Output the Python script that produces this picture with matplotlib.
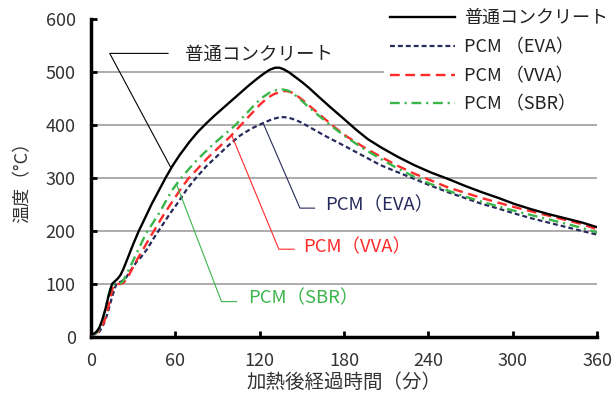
import numpy as np
import matplotlib
matplotlib.use("Agg")
import matplotlib.pyplot as plt

plt.rcParams['font.family'] = ['Noto Sans CJK JP', 'DejaVu Sans']
plt.rcParams['lines.scale_dashes'] = False

# data (minutes, deg C)
t_normal = [0, 2, 4, 6, 8, 10, 12, 14, 15, 17, 19, 21, 23, 26, 30, 34, 38, 43, 48, 53, 58, 63, 70,
            76, 82, 88, 94, 100, 106, 112, 118, 123, 127, 131, 134, 137, 141, 145, 150, 155, 162,
            170, 180, 189, 197, 206, 218, 230, 242, 254, 266, 278, 290, 301, 313, 325, 337, 349, 360]
T_normal = [5, 6, 10, 18, 32, 50, 72, 92, 100, 105, 110, 117, 128, 148, 175, 200, 222, 250, 275, 300, 323, 343, 368,
            387, 403, 418, 432, 446, 460, 474, 487, 497, 504, 508, 508, 505, 499, 491, 481, 470, 453,
            434, 411, 390, 373, 358, 340, 324, 310, 298, 285, 273, 262, 251, 241, 232, 224, 216, 207]

t_eva = [0, 3, 6, 9, 11, 13, 15, 17, 18, 20, 22, 25, 28, 32, 36, 40, 45, 51, 56, 62, 68, 74, 82,
         90, 98, 106, 114, 122, 129, 135, 140, 145, 150, 158, 166, 174, 182, 194, 206, 218, 230,
         242, 254, 266, 278, 290, 301, 313, 325, 337, 349, 360]
T_eva = [4, 5, 10, 24, 38, 56, 76, 92, 100, 103, 105, 112, 125, 140, 152, 166, 188, 212, 232, 254, 278, 298, 322,
         342, 362, 380, 393, 403, 411, 415, 414, 410, 404, 392, 380, 369, 358, 341, 324, 311, 298,
         285, 273, 262, 251, 242, 233, 224, 216, 208, 200, 193]

t_vva = [0, 3, 6, 9, 11, 13, 15, 16, 18, 21, 23, 25, 27, 30, 33, 37, 42, 47, 52, 58, 63, 69, 76,
         83, 91, 99, 106, 113, 120, 125, 130, 135, 139, 143, 147, 151, 158, 166, 174, 182, 194,
         206, 218, 230, 242, 254, 266, 278, 290, 301, 313, 325, 337, 349, 360]
T_vva = [5, 6, 12, 26, 42, 64, 88, 97, 100, 100, 102, 108, 117, 132, 147, 165, 188, 210, 232, 256, 276, 298, 318,
         338, 358, 378, 398, 418, 438, 450, 458, 463, 464, 461, 454, 446, 430, 412, 394, 378, 358,
         340, 323, 308, 295, 282, 272, 262, 253, 245, 237, 229, 221, 213, 203]

t_sbr = [0, 3, 6, 8, 10, 12, 14, 15, 18, 21, 23, 25, 28, 31, 35, 39, 44, 49, 54, 58, 63, 68, 74,
         80, 88, 95, 102, 110, 117, 122, 127, 132, 136, 140, 144, 148, 153, 160, 170, 182, 194,
         206, 218, 230, 242, 254, 266, 278, 290, 301, 313, 325, 337, 349, 360]
T_sbr = [5, 6, 15, 30, 50, 75, 92, 98, 100, 101, 106, 117, 133, 150, 172, 195, 215, 236, 260, 278, 296, 312, 330,
         346, 366, 382, 398, 420, 440, 452, 461, 466, 467, 465, 459, 450, 438, 422, 400, 376, 355,
         336, 318, 302, 288, 276, 265, 255, 246, 238, 230, 222, 214, 206, 197]

labels = ['普通コンクリート', 'PCM（EVA）', 'PCM（VVA）', 'PCM（SBR）']
legend_labels = ['普通コンクリート', 'PCM （EVA）', 'PCM （VVA）', 'PCM （SBR）']
colors = ['black', '#262a5c', '#ff2a2a', '#3bb54a']

fig = plt.figure(figsize=(6.15, 4.03), dpi=100)
ax = fig.add_axes([0.148, 0.164, 0.823, 0.789])

ax.plot(t_normal, T_normal, color=colors[0], lw=1.7, label=legend_labels[0], zorder=5)
ax.plot(t_eva, T_eva, color=colors[1], lw=1.6, ls=(0, (3.5, 2.2)), label=legend_labels[1], zorder=4)
ax.plot(t_vva, T_vva, color=colors[2], lw=1.7, ls=(0, (7, 4)), label=legend_labels[2], zorder=4)
ax.plot(t_sbr, T_sbr, color=colors[3], lw=1.7, ls=(0, (7, 3.5, 1.5, 3.5)), label=legend_labels[3], zorder=4)

ax.set_xlim(0, 360)
ax.set_ylim(0, 600)
ax.set_xticks(range(0, 361, 60))
ax.set_yticks(range(0, 601, 100))
ax.yaxis.grid(True, color='#a6a6a6', lw=1.3)
ax.get_ygridlines()[-1].set_visible(False)
ax.set_axisbelow(True)

for s in ['top', 'right']:
    ax.spines[s].set_visible(False)
for s in ['left', 'bottom']:
    ax.spines[s].set_linewidth(2.5)
ax.tick_params(direction='in', length=4, width=2, labelsize=13, labelcolor='#333333', pad=11)

ax.set_xlabel('加熱後経過時間（分）', fontsize=14, color='#333333', labelpad=1)
ax.set_ylabel('温度（°C）', fontsize=13, color='#333333', labelpad=10)

# callouts: (series, time on curve, corner, end of horizontal, text position)
series = [(t_normal, T_normal), (t_eva, T_eva), (t_vva, T_vva), (t_sbr, T_sbr)]
callouts = [
    (0, 57, (13.3, 535), 54.8, (66.7, 532)),
    (1, 122.4, (148.6, 243), 159, (166.4, 249)),
    (2, 100, (133.6, 165.5), 144.5, (150.7, 170)),
    (3, 60.8, (92.8, 66.6), 103.5, (111.5, 73)),
]
for i, tc, corner, hend, tpos in callouts:
    tt, TT = series[i]
    yc = np.interp(tc, tt, TT)
    ax.plot([tc, corner[0], hend], [yc, corner[1], corner[1]], color=colors[i], lw=0.8, zorder=6)
    ax.text(tpos[0], tpos[1], labels[i], color=colors[i] if i else '#222222',
            fontsize=13.3, va='center', ha='left', zorder=6)

leg = ax.legend(loc='upper right', bbox_to_anchor=(1.0, 0.995), bbox_transform=fig.transFigure,
                fontsize=13, frameon=True, facecolor='white', edgecolor='none', framealpha=1,
                handlelength=3.6, handletextpad=0.5, labelspacing=0.6, borderpad=0.3,
                borderaxespad=0.1)
for txt in leg.get_texts():
    txt.set_color('#222222')
leg.set_zorder(10)

fig.savefig('out.png', dpi=100)
